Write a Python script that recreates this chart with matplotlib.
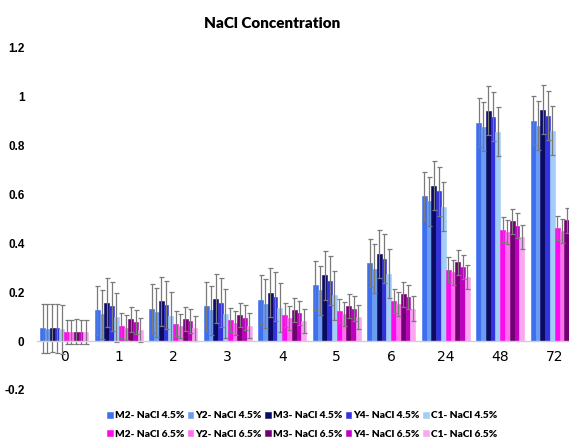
import numpy as np
import matplotlib
matplotlib.use("Agg")
import matplotlib.pyplot as plt

hours = ["0", "1", "2", "3", "4", "5", "6", "24", "48", "72"]

series = ["M2- NaCl 4.5%", "Y2- NaCl 4.5%", "M3- NaCl 4.5%", "Y4- NaCl 4.5%", "C1- NaCl 4.5%",
          "M2- NaCl 6.5%", "Y2- NaCl 6.5%", "M3- NaCl 6.5%", "Y4- NaCl 6.5%", "C1- NaCl 6.5%"]

m2_45 = [0.052, 0.127, 0.132, 0.143, 0.169, 0.229, 0.320, 0.594, 0.895, 0.902]
y2_45 = [0.050, 0.110, 0.118, 0.127, 0.154, 0.208, 0.297, 0.573, 0.878, 0.882]
m3_45 = [0.054, 0.157, 0.163, 0.173, 0.199, 0.270, 0.357, 0.637, 0.943, 0.947]
y4_45 = [0.052, 0.143, 0.148, 0.158, 0.182, 0.248, 0.337, 0.613, 0.918, 0.922]
c1_45 = [0.048, 0.098, 0.102, 0.113, 0.136, 0.188, 0.276, 0.551, 0.857, 0.861]
m2_65 = [0.038, 0.064, 0.072, 0.086, 0.106, 0.124, 0.164, 0.293, 0.457, 0.463]
y2_65 = [0.037, 0.055, 0.061, 0.075, 0.095, 0.110, 0.151, 0.281, 0.446, 0.450]
m3_65 = [0.039, 0.089, 0.091, 0.106, 0.127, 0.143, 0.191, 0.322, 0.490, 0.494]
y4_65 = [0.038, 0.078, 0.082, 0.096, 0.116, 0.133, 0.181, 0.304, 0.473, 0.478]
c1_65 = [0.037, 0.045, 0.052, 0.064, 0.082, 0.099, 0.133, 0.263, 0.426, 0.430]

err_45 = 0.10
err_65 = 0.05

values = [m2_45, y2_45, m3_45, y4_45, c1_45, m2_65, y2_65, m3_65, y4_65, c1_65]
errors = [err_45] * 5 + [err_65] * 5
colors = ["#3d6ff0", "#6a9cf0", "#0b0b62", "#3232e0", "#a3cdf6",
          "#ff0aee", "#ff6fee", "#720072", "#c000c0", "#fba6f0"]

fig = plt.figure(figsize=(5.69, 4.41), dpi=100)
# axes run past the right edge, the original picture is cropped there
ax = fig.add_axes([37 / 569, 1 - 390 / 441, 545 / 569, 342 / 441])

x = np.arange(len(hours))
w = 0.088
handles = []
for i, (vals, e, c) in enumerate(zip(values, errors, colors)):
    pos = x + (i - 4.5) * w
    b = ax.bar(pos, vals, w, color=c, edgecolor=c, linewidth=0.4, yerr=e, ecolor="#7a7a7a",
               error_kw=dict(elinewidth=0.9, capsize=1.8, capthick=0.9))
    handles.append(b)

ax.set_xlim(-0.5, 9.5)
ax.set_ylim(-0.2, 1.2)
ax.set_yticks([-0.2, 0, 0.2, 0.4, 0.6, 0.8, 1, 1.2])
ax.set_yticklabels(["-0.2", "0", "0.2", "0.4", "0.6", "0.8", "1", "1.2"],
                   fontfamily="Liberation Sans", fontweight="bold", fontsize=8.5)
ax.set_xticks(x)
ax.set_xticklabels(hours, fontfamily="Liberation Sans", fontweight="bold", fontsize=9.5)
ax.tick_params(axis="both", length=0)
ax.tick_params(axis="y", pad=9)
ax.tick_params(axis="x", pad=6.5)
for s in ["top", "right", "left"]:
    ax.spines[s].set_visible(False)
ax.spines["bottom"].set_position(("data", 0))
ax.spines["bottom"].set_color("#d0d0d0")
ax.spines["bottom"].set_linewidth(1.0)

fig.text(272 / 569, 1 - 24 / 441, "NaCl Concentration", ha="center", va="center",
         fontfamily="Lato", fontweight="heavy", fontsize=11)

# matplotlib fills legend columns first, so interleave to get two rows
order = [0, 5, 1, 6, 2, 7, 3, 8, 4, 9]
fig.legend([handles[k] for k in order], [series[k] for k in order],
           ncol=5, loc="center", bbox_to_anchor=(302 / 569, 1 - 425 / 441),
           frameon=False, prop=dict(family="Lato", weight="heavy", size=7.3),
           handlelength=0.55, handleheight=0.55, handletextpad=0.2,
           columnspacing=0.35, labelspacing=0.95, borderpad=0)

fig.savefig("out.png", dpi=100)
